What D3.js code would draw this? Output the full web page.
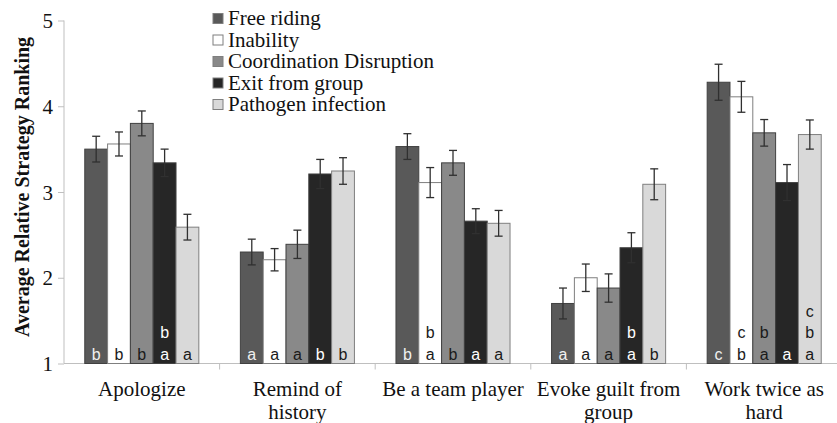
<!DOCTYPE html>
<html>
<head>
<meta charset="utf-8">
<script src="https://cdn.jsdelivr.net/npm/d3@7"></script>
<style>
  html, body { margin: 0; padding: 0; background: #fff; }
  svg { display: block; }
  .serif { font-family: "Liberation Serif", "Times New Roman", Times, "DejaVu Serif", serif; }
  .sans { font-family: "Liberation Sans", Arial, Helvetica, sans-serif; }
</style>
</head>
<body>
<svg id="chart" width="837" height="423"></svg>
<script>
// ---- data ----
const categories = ["Apologize", "Remind of history", "Be a team player", "Evoke guilt from group", "Work twice as hard"];
const categoryLines = [["Apologize"], ["Remind of", "history"], ["Be a team player"], ["Evoke guilt from", "group"], ["Work twice as", "hard"]];
const seriesNames = ["Free riding", "Inability", "Coordination Disruption", "Exit from group", "Pathogen infection"];

const freeRiding   = [3.50, 2.30, 3.53, 1.70, 4.28];
const inability    = [3.56, 2.21, 3.11, 2.00, 4.11];
const coordination = [3.80, 2.39, 3.34, 1.88, 3.69];
const exitGroup    = [3.34, 3.21, 2.66, 2.35, 3.11];
const pathogen     = [2.59, 3.245, 2.635, 3.09, 3.67];

const freeRidingErr   = [0.15, 0.15, 0.15, 0.18, 0.21];
const inabilityErr    = [0.14, 0.13, 0.175, 0.16, 0.18];
const coordinationErr = [0.145, 0.165, 0.145, 0.165, 0.155];
const exitGroupErr    = [0.16, 0.17, 0.145, 0.175, 0.21];
const pathogenErr     = [0.15, 0.155, 0.15, 0.18, 0.17];

// significance letters, listed bottom to top
const freeRidingLetters   = ["b", "a", "b", "a", "c"];
const inabilityLetters    = ["b", "a", "ab", "a", "bc"];
const coordinationLetters = ["b", "a", "b", "a", "ab"];
const exitGroupLetters    = ["ab", "b", "a", "ab", "a"];
const pathogenLetters     = ["a", "b", "a", "b", "abc"];

const yTicks = [1, 2, 3, 4, 5];

// ---- styles ----
const fills = ["#595959", "#ffffff", "#898989", "#262626", "#d9d9d9"];
const letterColors = ["#f0f0f0", "#1a1a1a", "#1a1a1a", "#ffffff", "#1a1a1a"];

const seriesValues = [freeRiding, inability, coordination, exitGroup, pathogen];
const seriesErr = [freeRidingErr, inabilityErr, coordinationErr, exitGroupErr, pathogenErr];
const seriesLetters = [freeRidingLetters, inabilityLetters, coordinationLetters, exitGroupLetters, pathogenLetters];

const svg = d3.select("#chart");
const plotLeft = 64, plotRight = 842, plotTop = 20.5, plotBottom = 363.5;

const x0 = d3.scaleBand().domain(categories).range([plotLeft, plotRight]).paddingInner(0.267).paddingOuter(0.1335);
const x1 = d3.scaleBand().domain(seriesNames).range([0, x0.bandwidth()]);
const y = d3.scaleLinear().domain([1, 5]).range([plotBottom, plotTop]);

// y axis
const yAxis = svg.append("g").attr("transform", `translate(${plotLeft},0)`)
  .call(d3.axisLeft(y).tickValues(yTicks).tickSize(6).tickPadding(5).tickFormat(d3.format("d")));
yAxis.attr("font-family", null).attr("font-size", null);
yAxis.selectAll("path, line").attr("stroke", "#bfbfbf");
yAxis.select("path").attr("d", `M0,${plotTop}V${plotBottom}`);
yAxis.selectAll("text").attr("class", "serif").style("font-size", "21px").attr("fill", "#111").attr("dy", "0.34em");

// x axis line + boundary ticks
const xg = svg.append("g");
xg.append("line").attr("x1", plotLeft).attr("x2", plotRight).attr("y1", plotBottom).attr("y2", plotBottom).attr("stroke", "#bfbfbf");
const step = x0.step();
categories.forEach((c, i) => {
  const bx = x0(c) - x0.paddingOuter() * step + step;
  if (i < categories.length - 1)
    xg.append("line").attr("x1", bx).attr("x2", bx).attr("y1", plotBottom).attr("y2", plotBottom + 6).attr("stroke", "#bfbfbf");
});

// category labels
categories.forEach((c, i) => {
  const cx = x0(c) + x0.bandwidth() / 2;
  const t = svg.append("text").attr("class", "serif").attr("x", cx).attr("y", 396).attr("text-anchor", "middle")
    .style("font-size", "21px").attr("fill", "#111");
  categoryLines[i].forEach((line, j) => {
    t.append("tspan").attr("x", cx).attr("dy", j === 0 ? 0 : 23).text(line);
  });
});

// bars
seriesNames.forEach((s, si) => {
  const g = svg.append("g");
  categories.forEach((c, ci) => {
    const v = seriesValues[si][ci];
    const bx = x0(c) + x1(s);
    const bw = x1.bandwidth();
    g.append("rect").attr("x", bx).attr("y", y(v)).attr("width", bw).attr("height", y(1) - y(v))
      .attr("fill", fills[si]).attr("stroke", si === 1 || si === 4 ? "#7f7f7f" : "#404040").attr("stroke-width", 1);
  });
});

// error bars
seriesNames.forEach((s, si) => {
  categories.forEach((c, ci) => {
    const v = seriesValues[si][ci], e = seriesErr[si][ci];
    const cx = x0(c) + x1(s) + x1.bandwidth() / 2;
    const g = svg.append("g").attr("stroke", "#303030").attr("stroke-width", 1.3);
    g.append("line").attr("x1", cx).attr("x2", cx).attr("y1", y(v + e)).attr("y2", y(v - e));
    g.append("line").attr("x1", cx - 4).attr("x2", cx + 4).attr("y1", y(v + e)).attr("y2", y(v + e));
    g.append("line").attr("x1", cx - 4).attr("x2", cx + 4).attr("y1", y(v - e)).attr("y2", y(v - e));
  });
});

// significance letters
seriesNames.forEach((s, si) => {
  categories.forEach((c, ci) => {
    const cx = x0(c) + x1(s) + x1.bandwidth() / 2;
    seriesLetters[si][ci].split("").forEach((L, k) => {
      svg.append("text").attr("class", "sans").attr("x", cx).attr("y", plotBottom - 9.5 - k * 21.5).attr("dy", "0.35em")
        .attr("text-anchor", "middle").style("font-size", "16px")
        .attr("fill", letterColors[si]).text(L);
    });
  });
});

// legend
const legend = svg.append("g");
seriesNames.forEach((s, i) => {
  const cy = 18.5 + i * 21.5;
  legend.append("rect").attr("x", 213).attr("y", cy - 5).attr("width", 10).attr("height", 10)
    .attr("fill", fills[i]).attr("stroke", "#7f7f7f");
  legend.append("text").attr("class", "serif").attr("x", 228).attr("y", cy).attr("dy", "0.32em")
    .style("font-size", "21px").attr("fill", "#111").text(s);
});

// y title
svg.append("text").attr("class", "serif").attr("transform", `translate(22,187) rotate(-90)`)
  .attr("text-anchor", "middle").attr("dy", "0.35em")
  .style("font-weight", "bold").style("font-size", "20px").attr("fill", "#111")
  .text("Average Relative Strategy Ranking");
</script>
</body>
</html>
